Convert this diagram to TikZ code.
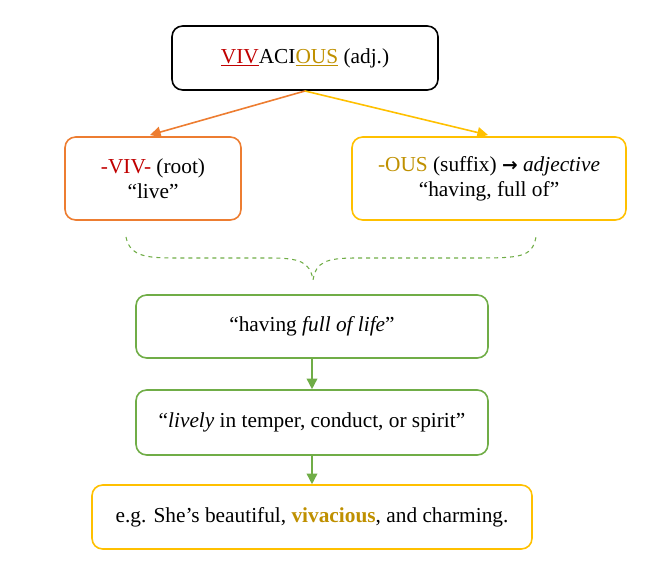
\documentclass[tikz,border=0pt]{standalone}
\usepackage{fontspec}
\setmainfont{Liberation Serif}
\usetikzlibrary{arrows.meta}
\definecolor{cred}{HTML}{C00000}
\definecolor{cgold}{HTML}{BF9000}
\definecolor{corange}{HTML}{ED7D31}
\definecolor{cyellow}{HTML}{FFC000}
\definecolor{cgreen}{HTML}{70AD47}
\begin{document}
\begin{tikzpicture}[x=0.75pt,y=-0.75pt,
  box/.style={draw,rounded corners=8pt,line width=1.2pt,align=center,font=\fontsize{16}{19}\selectfont},
  arr/.style={-{Triangle[length=8pt,width=8pt]},line width=1.2pt}]
\useasboundingbox (0,0) rectangle (649,580);
\node[box,black,minimum width=266*0.75pt,minimum height=64*0.75pt] (top) at (305,58) {\textcolor{cred}{$\underline{\hbox{VIV}}$}ACI\textcolor{cgold}{$\underline{\hbox{OUS}}$} (adj.)};
\node[box,draw=corange,minimum width=176*0.75pt,minimum height=83*0.75pt] (viv) at (153,178.5) {\textcolor{cred}{-VIV-} (root)\\``live''};
\node[box,draw=cyellow,minimum width=274*0.75pt,minimum height=83*0.75pt] (ous) at (489,178.5) {\textcolor{cgold}{-OUS} (suffix) {\fontspec{DejaVu Sans}\fontsize{14}{16}\selectfont\textbf{→}} \textit{adjective}\\``having, full of''};
\node[box,draw=cgreen,minimum width=352*0.75pt,minimum height=63*0.75pt] (g1) at (312,326.5) {``having \textit{full of life}''};
\node[box,draw=cgreen,minimum width=352*0.75pt,minimum height=65*0.75pt] (g2) at (312,422.5) {``\textit{lively} in temper, conduct, or spirit''};
\node[box,draw=cyellow,minimum width=440*0.75pt,minimum height=64*0.75pt] (ex) at (312,517) {e.g. She\char"0027 s beautiful, \textcolor{cgold}{\textbf{vivacious}}, and charming.};
\coordinate (ts) at (305,91);
\draw[arr,corange] (ts) -- (150,135);
\draw[arr,cyellow] (ts) -- (488,135);
\coordinate (bl) at (126,237);
\coordinate (br) at (536,237);
\coordinate (bt) at (313,280);
\draw[cgreen,dashed,line width=0.8pt] (bl) .. controls (130,258) and (150,258) .. (180,258) -- (270,258) .. controls (300,258) and (310,262) .. (bt)
  .. controls (316,262) and (326,258) .. (356,258) -- (470,258) .. controls (520,258) and (532,258) .. (br);
\draw[arr,cgreen] (g1) -- (g2);
\draw[arr,cgreen] (g2) -- (ex);
\end{tikzpicture}
\end{document}
